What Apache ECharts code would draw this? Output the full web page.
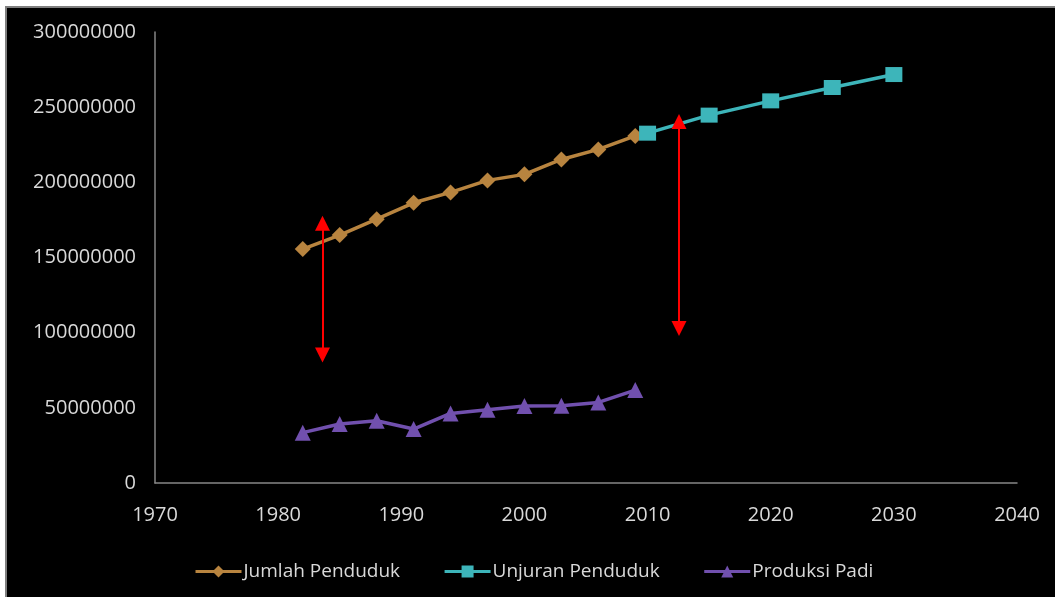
<!DOCTYPE html>
<html>
<head>
<meta charset="utf-8">
<title>Jumlah Penduduk dan Produksi Padi</title>
<script src="https://cdn.jsdelivr.net/npm/echarts@6/dist/echarts.min.js"></script>
<style>
  html, body { margin: 0; padding: 0; background: #ffffff; overflow: hidden; }
  #frame {
    position: absolute; left: 5px; top: 6px; width: 1060px; height: 600px;
    background: #000000; border: 2px solid #7f7f7f; box-sizing: border-box;
  }
  #chart { position: absolute; left: 0; top: 0; width: 1055px; height: 597px; }
</style>
</head>
<body>
<div id="frame"></div>
<div id="chart"></div>
<script>
// Census years and population (jiwa)
const tahunPenduduk = [1982, 1985, 1988, 1991, 1994, 1997, 2000, 2003, 2006, 2009];
const jumlahPenduduk = [155600000, 164900000, 175500000, 186400000, 193300000, 201300000, 205300000, 215200000, 221900000, 230900000];

// Population projection
const tahunUnjuran = [2010, 2015, 2020, 2025, 2030];
const unjuranPenduduk = [232700000, 244700000, 254200000, 263100000, 271700000];

// Rice production (ton)
const tahunPadi = [1982, 1985, 1988, 1991, 1994, 1997, 2000, 2003, 2006, 2009];
const produksiPadi = [33500000, 39200000, 41400000, 35900000, 46300000, 48700000, 51200000, 51400000, 53600000, 61800000];

// Gap arrows between population and production: [year, upper value, lower value]
// (values mark the arrowhead centres)
const panahCelah = [
  [1983.6, 172700000, 85200000],
  [2012.55, 240400000, 102700000]
];

const namaSeri = ['Jumlah Penduduk', 'Unjuran Penduduk', 'Produksi Padi'];
const warna = ['#B8843F', '#3DB5BA', '#7150AE'];

const pair = (xs, ys) => xs.map((x, i) => [x, ys[i]]);

const textColor = '#D9D9D9';
const axisColor = '#868686';
const font = 'Open Sans';

const chart = echarts.init(document.getElementById('chart'), null, { renderer: 'canvas' });

chart.setOption({
  backgroundColor: 'transparent',
  animation: false,
  grid: { left: 155, right: 38, top: 32, bottom: 114, containLabel: false },
  xAxis: {
    type: 'value', min: 1970, max: 2040, interval: 10,
    axisLine: { show: true, lineStyle: { color: axisColor, width: 1.5 } },
    axisTick: { show: false },
    splitLine: { show: false },
    axisLabel: { color: textColor, fontFamily: font, fontSize: 20, margin: 22, formatter: v => String(v) }
  },
  yAxis: {
    type: 'value', min: 0, max: 300000000, interval: 50000000,
    axisLine: { show: true, lineStyle: { color: axisColor, width: 1.5 } },
    axisTick: { show: false },
    splitLine: { show: false },
    axisLabel: { color: textColor, fontFamily: font, fontSize: 20, margin: 19, formatter: v => String(v) }
  },
  legend: {
    left: 194, top: 562, padding: 0,
    itemWidth: 46, itemHeight: 15, itemGap: 43,
    lineStyle: { width: 3 },
    textStyle: { color: textColor, fontFamily: font, fontSize: 19, padding: [0, 0, 0, -3] },
    data: namaSeri
  },
  series: [
    {
      name: namaSeri[0], type: 'line',
      data: pair(tahunPenduduk, jumlahPenduduk),
      symbol: 'diamond', symbolSize: 16,
      lineStyle: { color: warna[0], width: 3.5 },
      itemStyle: { color: warna[0] },
      markLine: {
        silent: true,
        symbol: ['triangle', 'triangle'], symbolSize: [15, 15],
        label: { show: false },
        lineStyle: { color: '#FF0000', width: 2, type: 'solid' },
        data: panahCelah.map(a => [{ coord: [a[0], a[1]] }, { coord: [a[0], a[2]] }])
      }
    },
    {
      name: namaSeri[1], type: 'line',
      data: pair(tahunUnjuran, unjuranPenduduk),
      symbol: 'rect', symbolSize: [17, 15],
      lineStyle: { color: warna[1], width: 3.5 },
      itemStyle: { color: warna[1] }
    },
    {
      name: namaSeri[2], type: 'line',
      data: pair(tahunPadi, produksiPadi),
      symbol: 'triangle', symbolSize: 16,
      lineStyle: { color: warna[2], width: 3.5 },
      itemStyle: { color: warna[2] }
    }
  ]
});
</script>
</body>
</html>
